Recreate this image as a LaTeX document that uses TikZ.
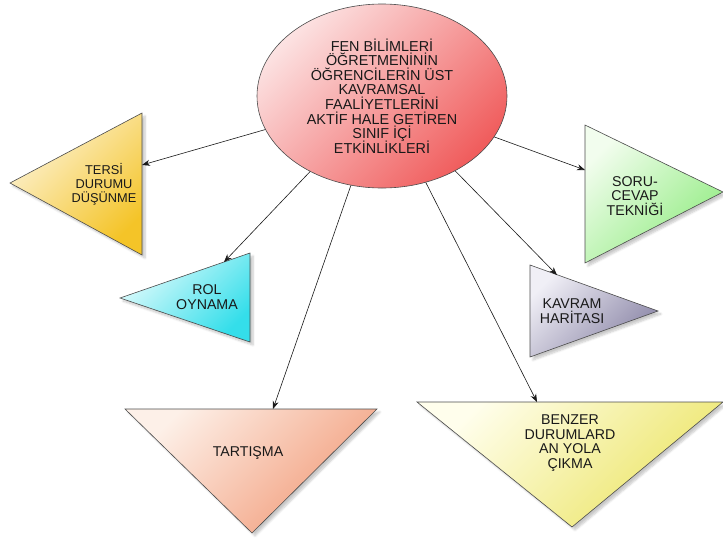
\documentclass[tikz,border=0pt]{standalone}
\usepackage{fontspec}
\setmainfont{Liberation Sans}
\usetikzlibrary{shapes.geometric,arrows.meta,shadows.blur}

\definecolor{goldA}{RGB}{253,243,214}
\definecolor{goldB}{RGB}{244,196,40}
\definecolor{cyanA}{RGB}{225,251,252}
\definecolor{cyanB}{RGB}{52,222,234}
\definecolor{greenA}{RGB}{242,253,238}
\definecolor{greenB}{RGB}{146,236,130}
\definecolor{lilacA}{RGB}{240,239,246}
\definecolor{lilacB}{RGB}{138,133,166}
\definecolor{salmonA}{RGB}{253,240,232}
\definecolor{salmonB}{RGB}{242,156,122}
\definecolor{lemonA}{RGB}{255,254,236}
\definecolor{lemonB}{RGB}{236,229,102}
\definecolor{pinkA}{RGB}{252,226,226}
\definecolor{pinkB}{RGB}{240,92,92}

\begin{document}
\begin{tikzpicture}[x=1pt,y=-1pt,
  lbl/.style={align=center, font=\fontsize{14.2}{14.5}\selectfont, text=black!90, inner sep=0pt,
    execute at begin node={\lineskiplimit=-20pt\lineskip=0pt\relax}},
  tri/.style 2 args={draw=black!70, line width=0.6pt, top color=#1, bottom color=#2, shading angle=45,
    blur shadow={shadow xshift=3pt, shadow yshift=-3pt, shadow opacity=22, shadow blur steps=6}},
  arr/.style={draw=black!90, line width=0.6pt, -{Stealth[length=8pt,width=6pt]}}
]
\useasboundingbox (0,0) rectangle (723,547);

% central ellipse
\node[ellipse, draw=black!70, line width=0.6pt, top color=pinkA, bottom color=pinkB, shading angle=45,
      minimum width=250pt, minimum height=184pt, lbl, font=\fontsize{14.4}{14.6}\selectfont] (ell) at (382,96)
  {FEN BİLİMLERİ\\ÖĞRETMENİNİN\\ÖĞRENCİLERİN ÜST\\KAVRAMSAL\\FAALİYETLERİNİ\\AKTİF HALE GETİREN\\SINIF İÇİ\\ETKİNLİKLERİ};

% triangles
\path[tri={goldA}{goldB}] (10,183) -- (142,113) -- (142,255) -- cycle;
\path[tri={cyanA}{cyanB}] (120,298) -- (250,253) -- (250,342) -- cycle;
\path[tri={greenA}{greenB}] (585,125) -- (723,192) -- (585,263) -- cycle;
\path[tri={lilacA}{lilacB}] (530,265) -- (658,311) -- (530,357) -- cycle;
\path[tri={salmonA}{salmonB}] (125,409) -- (377,409) -- (252,533) -- cycle;
\path[tri={lemonA}{lemonB}] (417,402) -- (723,402) -- (572,527) -- cycle;

% labels
\node[lbl, font=\fontsize{12.8}{14}\selectfont] (tersi) at (104,184) {TERSİ\\DURUMU\\DÜŞÜNME};
\node[lbl] (rol) at (207,297) {ROL\\OYNAMA};
\node[lbl] (soru) at (635,196) {SORU-\\CEVAP\\TEKNİĞİ};
\node[lbl] (kavram) at (572,311) {KAVRAM\\HARİTASI};
\node[lbl] (tartisma) at (248,453) {TARTIŞMA};
\node[lbl] (benzer) at (570,443) {BENZER\\DURUMLARD\\AN YOLA\\ÇIKMA};

% arrow ends on the triangle edges
\coordinate (tersiT) at (142,165);
\coordinate (rolT) at (224,262);
\coordinate (soruT) at (585,170);
\coordinate (kavT) at (557,275);
\coordinate (tarT) at (273,409);
\coordinate (benT) at (537,402);

% connectors
\draw[arr] (ell) -- (tersiT);
\draw[arr] (ell) -- (rolT);
\draw[arr] (ell) -- (tarT);
\draw[arr] (ell) -- (benT);
\draw[arr] (ell) -- (kavT);
\draw[arr] (ell) -- (soruT);
\end{tikzpicture}
\end{document}
